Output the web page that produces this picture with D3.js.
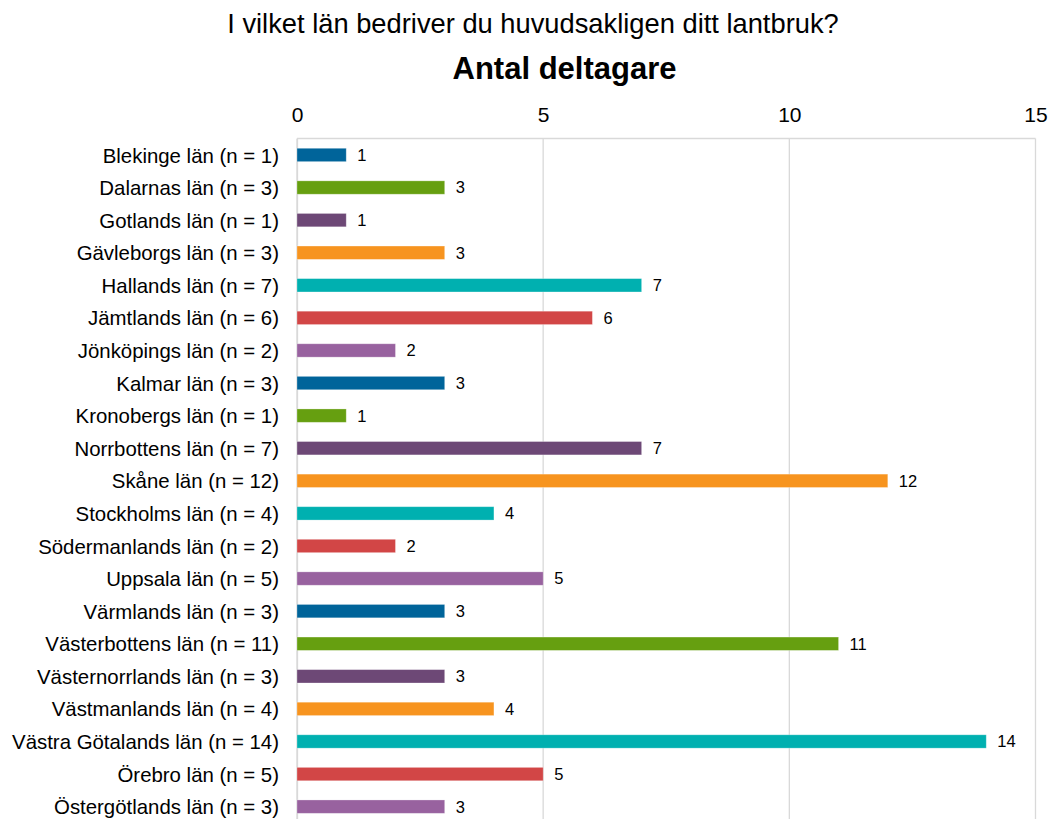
<!DOCTYPE html>
<html>
<head>
<meta charset="utf-8">
<script src="https://cdn.jsdelivr.net/npm/d3@7"></script>
<style>
  body { margin: 0; background: #fff; }
  text { font-family: "Liberation Sans", Arial, sans-serif; fill: #000; }
</style>
</head>
<body>
<div class="chart"></div>
<script>
// data
var lan = ["Blekinge län", "Dalarnas län", "Gotlands län", "Gävleborgs län", "Hallands län",
  "Jämtlands län", "Jönköpings län", "Kalmar län", "Kronobergs län", "Norrbottens län",
  "Skåne län", "Stockholms län", "Södermanlands län", "Uppsala län", "Värmlands län",
  "Västerbottens län", "Västernorrlands län", "Västmanlands län", "Västra Götalands län",
  "Örebro län", "Östergötlands län"];
var antal = [1, 3, 1, 3, 7, 6, 2, 3, 1, 7, 12, 4, 2, 5, 3, 11, 3, 4, 14, 5, 3];
var xTicks = [0, 5, 10, 15];
var palette = ["#00649a", "#669f10", "#6d4876", "#f7941f", "#00b0b0", "#d24646", "#98629f"];

var svgWidth = 1050;
var svgHeight = 819;
var margin = { top: 138.5, left: 297, right: 15 };
var width = 1035.5 - margin.left;
var height = 32.6 * lan.length;

var svg = d3.select(".chart")
  .append("svg")
  .attr("width", svgWidth)
  .attr("height", svgHeight);

// titles
svg.append("text")
  .attr("x", 533).attr("y", 33)
  .attr("text-anchor", "middle")
  .style("font-size", "27.3px")
  .text("I vilket län bedriver du huvudsakligen ditt lantbruk?");

svg.append("text")
  .attr("x", 564.5).attr("y", 79)
  .attr("text-anchor", "middle")
  .style("font-size", "31px")
  .style("font-weight", "bold")
  .text("Antal deltagare");

var chartGroup = svg.append("g")
  .attr("transform", `translate(${margin.left}, ${margin.top})`);

var x = d3.scaleLinear().domain([0, 15]).range([0, width]);
var y = d3.scaleBand().domain(lan).range([0, height]).paddingInner(0.59).paddingOuter(0.3);

// gridlines
chartGroup.append("g")
  .selectAll("line")
  .data(xTicks)
  .join("line")
  .attr("x1", d => x(d)).attr("x2", d => x(d))
  .attr("y1", 0).attr("y2", height)
  .attr("stroke", "#d9d9d9")
  .attr("stroke-width", 1.3);

// top border
chartGroup.append("line")
  .attr("x1", 0).attr("x2", width)
  .attr("y1", 0).attr("y2", 0)
  .attr("stroke", "#d9d9d9")
  .attr("stroke-width", 1.3);

// top axis labels
var xAxis = chartGroup.append("g")
  .call(d3.axisTop(x).tickValues(xTicks).tickSize(0).tickPadding(17));
xAxis.select(".domain").remove();
xAxis.selectAll("text")
  .style("font-size", "21px")
  .style("font-family", "'Liberation Sans', Arial, sans-serif");

// left axis labels
var yAxis = chartGroup.append("g")
  .call(d3.axisLeft(y).tickSize(0).tickPadding(18).tickFormat((d, i) => `${d} (n = ${antal[i]})`));
yAxis.select(".domain").attr("stroke", "#d9d9d9").attr("stroke-width", 1.3);
yAxis.selectAll("text")
  .attr("dy", "0.37em")
  .style("font-size", "20.4px")
  .style("font-family", "'Liberation Sans', Arial, sans-serif");

// bars
chartGroup.append("g")
  .selectAll("rect")
  .data(lan)
  .join("rect")
  .attr("x", x(0))
  .attr("y", d => y(d))
  .attr("width", (d, i) => x(antal[i]) - x(0))
  .attr("height", y.bandwidth())
  .attr("fill", (d, i) => palette[i % palette.length])
  .attr("stroke", "#ffffff")
  .attr("stroke-opacity", 0.35)
  .attr("stroke-width", 0.8);

// value labels
chartGroup.append("g")
  .selectAll("text")
  .data(lan)
  .join("text")
  .attr("x", (d, i) => x(antal[i]) + 11)
  .attr("y", d => y(d) + y.bandwidth() / 2)
  .attr("dy", "0.36em")
  .style("font-size", "16.5px")
  .text((d, i) => antal[i]);
</script>
</body>
</html>
